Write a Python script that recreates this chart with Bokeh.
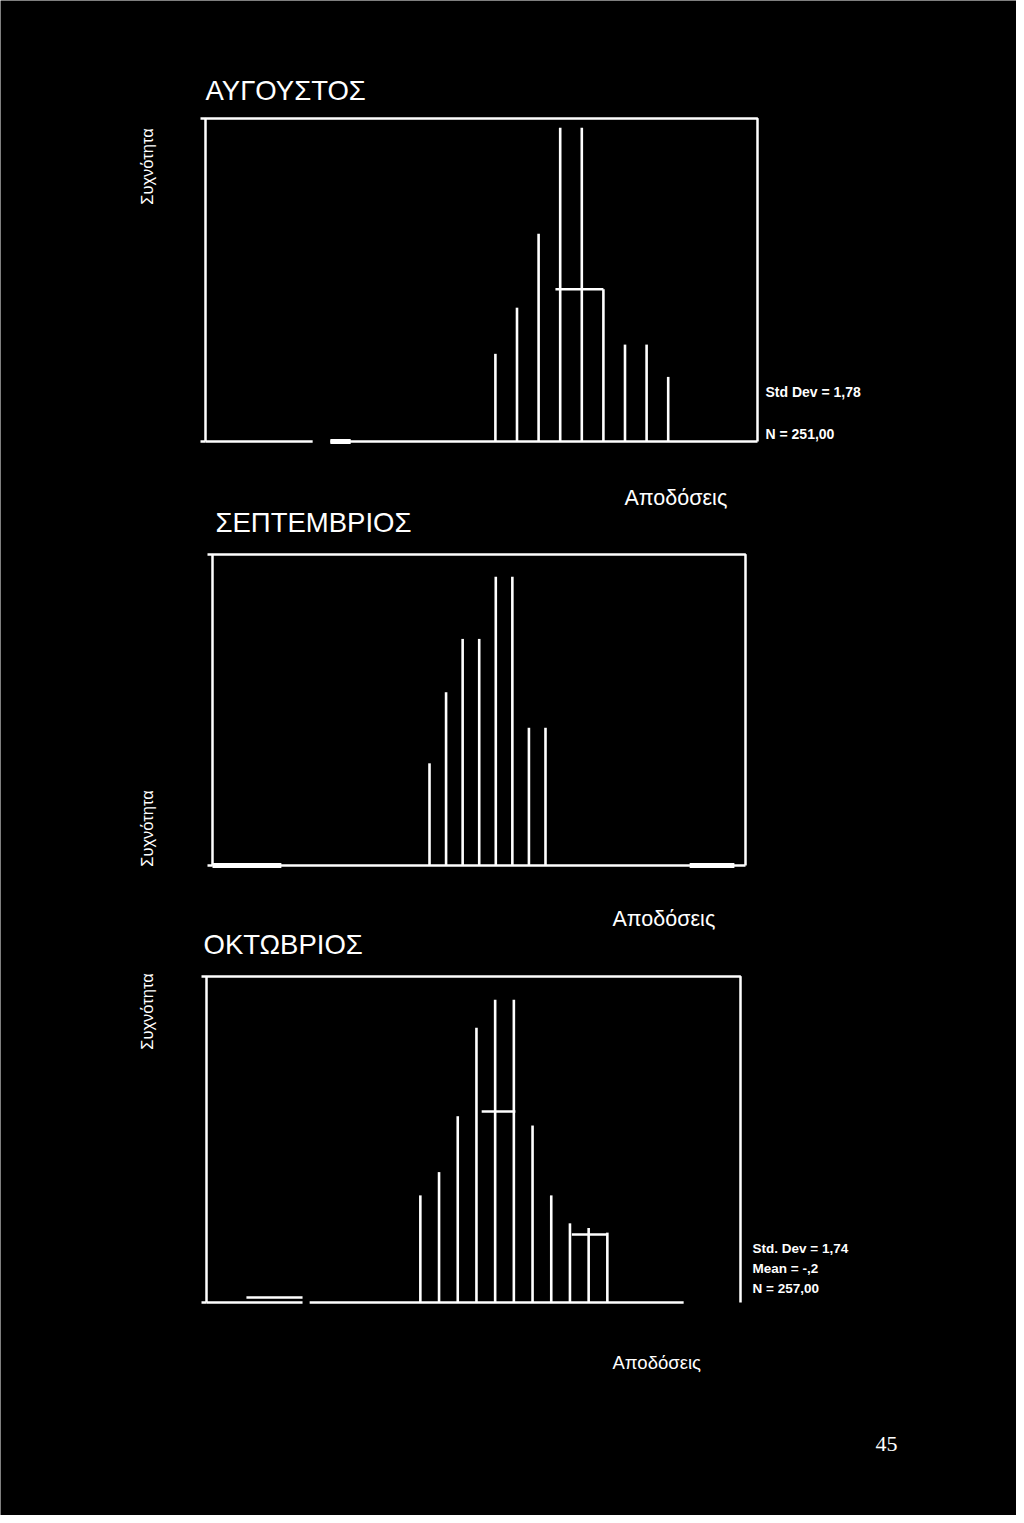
import math
from bokeh.plotting import figure
from bokeh.models import Label, Range1d
from bokeh.embed import file_html
from bokeh.resources import INLINE

# ---------------- data ----------------
titles = ["ΑΥΓΟΥΣΤΟΣ", "ΣΕΠΤΕΜΒΡΙΟΣ", "ΟΚΤΩΒΡΙΟΣ"]
x_label = "Αποδόσεις"
y_label = "Συχνότητα"
page_number = "45"

# August: bar edges (returns) and line heights (frequency)
aug_edges = [-1.75, -1.25, -0.75, -0.25, 0.25, 0.75, 1.25, 1.75, 2.25]
aug_freq = [19, 29, 45, 68, 68, 33, 21, 21, 14]
aug_cap_x0 = [-0.36]
aug_cap_x1 = [0.75]
aug_cap_y = [33]
aug_base_x0 = [None, -5.57]          # None -> left edge of box
aug_base_x1 = [-5.98, None]          # None -> right edge of box
aug_thick_x0 = [-5.57]
aug_thick_x1 = [-5.10]
aug_stats = ["Std Dev = 1,78", "N = 251,00"]

# September
sep_edges = [-1.75, -1.25, -0.75, -0.25, 0.25, 0.75, 1.25, 1.75]
sep_freq = [23, 39, 51, 51, 65, 65, 31, 31]
sep_cap_x0, sep_cap_x1, sep_cap_y = [], [], []
sep_base_x0 = [None]
sep_base_x1 = [None]
sep_thick_x0 = [None, 6.10]
sep_thick_x1 = [-6.22, 7.45]
sep_stats = []

# October
oct_edges = [-2.25, -1.75, -1.25, -0.75, -0.25, 0.25, 0.75, 1.25, 1.75, 2.25, 2.75]
oct_freq = [23, 28, 40, 59, 65, 65, 38, 23, 17, 16, 15]
oct_cap_x0 = [-0.61, 1.80, -6.90]
oct_cap_x1 = [0.29, 2.73, -5.40]
oct_cap_y = [41, 14.6, 1.1]
oct_base_x0 = [None, -5.21]
oct_base_x1 = [-5.40, 4.79]
oct_thick_x0 = []
oct_thick_x1 = []
oct_stats = ["Std. Dev = 1,74", "Mean = -,2", "N = 257,00"]

# ---------------- layout (page pixels) ----------------
PAGE_L, PAGE_T = 0, 0
PAGE_W, PAGE_H = 1016, 1515
WHITE = "#ffffff"
SANS = "Liberation Sans"

specs = [
    dict(name="aug", L=205, T=118, R=757, B=441, c=570.5, u=43.2, ymax=70),
    dict(name="sep", L=212, T=554, R=745, B=865, c=487.0, u=33.14, ymax=70),
    dict(name="oct", L=206, T=976, R=740, B=1302, c=504.0, u=37.4, ymax=70),
]

# one page-sized figure; page-pixel ranges for texts
p = figure(width=PAGE_W, height=PAGE_H,
           x_range=Range1d(PAGE_L, PAGE_L + PAGE_W),
           y_range=Range1d(PAGE_T + PAGE_H, PAGE_T),
           x_axis_location=None, y_axis_location=None,
           toolbar_location=None, output_backend="svg",
           min_border=0, min_border_left=0, min_border_right=0,
           min_border_top=0, min_border_bottom=0)
p.background_fill_color = "black"
p.border_fill_color = "black"
p.outline_line_color = None
p.grid.visible = False


def draw_chart(s, edges, freq, cx0, cx1, cy, bx0, bx1, tx0, tx1):
    k = (s["B"] - s["T"]) / s["ymax"]
    X = lambda px: (px - s["c"]) / s["u"]
    Y = lambda py: (s["B"] - py) / k
    nm = s["name"]
    p.extra_x_ranges[nm] = Range1d(X(PAGE_L), X(PAGE_L + PAGE_W))
    p.extra_y_ranges[nm] = Range1d(Y(PAGE_T + PAGE_H), Y(PAGE_T))
    kw = dict(x_range_name=nm, y_range_name=nm, line_color=WHITE)
    xL, xR = X(s["L"]), X(s["R"])
    # frame: left, top, right
    p.line(x=[xL, xL, xR, xR], y=[0, s["ymax"], s["ymax"], 0], line_width=2.5, **kw)
    # small corner ticks
    p.segment(x0=[X(s["L"] - 5)] * 2, y0=[0, s["ymax"]], x1=[xL] * 2,
              y1=[0, s["ymax"]], line_width=2.5, **kw)
    # baseline
    b0 = [xL if v is None else v for v in bx0]
    b1 = [xR if v is None else v for v in bx1]
    p.segment(x0=b0, y0=[0] * len(b0), x1=b1, y1=[0] * len(b1), line_width=2.5, **kw)
    t0 = [xL if v is None else v for v in tx0]
    t1 = [xR if v is None else v for v in tx1]
    if t0:
        p.segment(x0=t0, y0=[0] * len(t0), x1=t1, y1=[0] * len(t1), line_width=5, **kw)
    # histogram lines
    p.segment(x0=edges, y0=[0] * len(edges), x1=edges, y1=freq, line_width=2.6, **kw)
    if cx0:
        p.segment(x0=cx0, y0=cy, x1=cx1, y1=cy, line_width=2.5, **kw)


draw_chart(specs[0], aug_edges, aug_freq, aug_cap_x0, aug_cap_x1, aug_cap_y,
           aug_base_x0, aug_base_x1, aug_thick_x0, aug_thick_x1)
draw_chart(specs[1], sep_edges, sep_freq, sep_cap_x0, sep_cap_x1, sep_cap_y,
           sep_base_x0, sep_base_x1, sep_thick_x0, sep_thick_x1)
draw_chart(specs[2], oct_edges, oct_freq, oct_cap_x0, oct_cap_x1, oct_cap_y,
           oct_base_x0, oct_base_x1, oct_thick_x0, oct_thick_x1)

ROT = math.pi / 2
texts = [
    (titles[0], 205, 90, 27.5, SANS, 0, "left", "normal"),
    (y_label, 146, 166, 16.5, SANS, ROT, "center", "normal"),
    (x_label, 624, 497, 21.5, SANS, 0, "left", "normal"),
    (titles[1], 215, 522, 27.5, SANS, 0, "left", "normal"),
    (y_label, 146, 828, 16.5, SANS, ROT, "center", "normal"),
    (x_label, 612, 918, 21.5, SANS, 0, "left", "normal"),
    (titles[2], 203, 944, 27.5, SANS, 0, "left", "normal"),
    (y_label, 146, 1011, 16.5, SANS, ROT, "center", "normal"),
    (x_label, 612, 1362, 18.5, SANS, 0, "left", "normal"),
    (page_number, 886, 1443, 22, "Liberation Serif", 0, "center", "normal"),
]
texts += [(t, 765, yy, 14, SANS, 0, "left", "bold") for t, yy in zip(aug_stats, [391, 433])]
texts += [(t, 752, yy, 13.5, SANS, 0, "left", "bold") for t, yy in zip(oct_stats, [1248, 1268, 1288])]

for (txt, px, py, size, font, angle, align, style) in texts:
    p.add_layout(Label(x=px, y=py, text=txt, text_color=WHITE,
                       text_font=font, text_font_size=f"{size}px",
                       text_font_style=style, angle=angle,
                       text_align=align, text_baseline="middle"))

html = file_html(p, INLINE).replace("<body>", '<body style="background:#000000;">', 1)
open("out.html", "w").write(html)
